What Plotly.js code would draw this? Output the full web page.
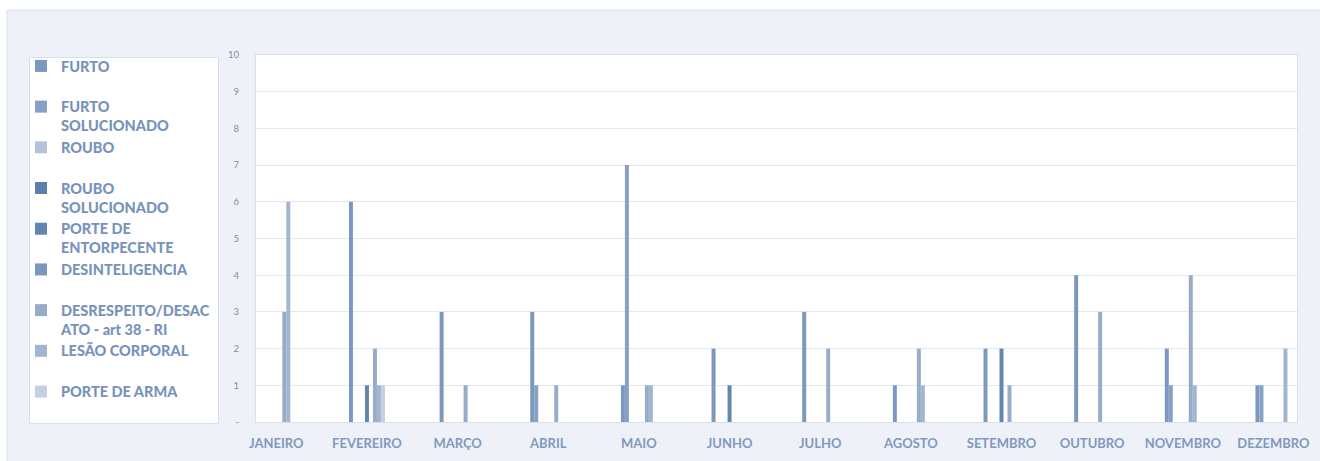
<!DOCTYPE html>
<html>
<head>
<meta charset="utf-8">
<script src="https://cdn.plot.ly/plotly-3.0.1.min.js"></script>
<style>
  html, body { margin: 0; padding: 0; background: #ffffff; }
  #chart { width: 1320px; height: 461px; }
</style>
</head>
<body>
<div id="chart"></div>
<script>
// ---- data ----
var months = ['JANEIRO', 'FEVEREIRO', 'MARÇO', 'ABRIL', 'MAIO', 'JUNHO', 'JULHO', 'AGOSTO', 'SETEMBRO', 'OUTUBRO', 'NOVEMBRO', 'DEZEMBRO'];
var seriesNames = ['FURTO', 'FURTO<br>SOLUCIONADO', 'ROUBO', 'ROUBO<br>SOLUCIONADO', 'PORTE DE<br>ENTORPECENTE', 'DESINTELIGENCIA', 'DESRESPEITO/DESAC<br>ATO - art 38 - RI', 'LESÃO CORPORAL', 'PORTE DE ARMA'];
var furto             = [0, 6, 3, 3, 1, 2, 3, 1, 2, 4, 2, 1];
var furtoSolucionado  = [0, 0, 0, 1, 7, 0, 0, 0, 0, 0, 1, 1];
var roubo             = [0, 0, 0, 0, 0, 0, 0, 0, 0, 0, 0, 0];
var rouboSolucionado  = [0, 0, 0, 0, 0, 0, 0, 0, 0, 0, 0, 0];
var porteEntorpecente = [0, 1, 0, 0, 0, 1, 0, 0, 2, 0, 0, 0];
var desinteligencia   = [0, 0, 0, 0, 0, 0, 0, 0, 0, 0, 0, 0];
var desrespeito       = [3, 2, 1, 1, 1, 0, 2, 2, 1, 3, 4, 0];
var lesaoCorporal     = [6, 1, 0, 0, 1, 0, 0, 1, 0, 0, 1, 2];
var porteArma         = [0, 1, 0, 0, 0, 0, 0, 0, 0, 0, 0, 0];
var yTickVals  = [0, 1, 2, 3, 4, 5, 6, 7, 8, 9, 10];
var yTickText  = ['-', '1', '2', '3', '4', '5', '6', '7', '8', '9', '10'];

// ---- styling ----
var seriesValues = [furto, furtoSolucionado, roubo, rouboSolucionado, porteEntorpecente, desinteligencia, desrespeito, lesaoCorporal, porteArma];
var seriesColors = ['#7d98bf', '#87a1c5', '#b4c3d9', '#5e7fac', '#6584b0', '#7b97bf', '#97acca', '#a3b6d1', '#c3d0e2'];

var traces = seriesNames.map(function (name, i) {
  var label = name.indexOf('<br>') >= 0 ? name : name + '<br>&nbsp;';
  return {
    type: 'bar',
    name: label,
    x: months,
    y: seriesValues[i],
    marker: { color: seriesColors[i], line: { width: 0 } },
    hoverinfo: 'x+y+name'
  };
});

var W = 1320, H = 461;
var plotL = 256, plotR = 1297, plotT = 55, plotB = 422;
var pw = plotR - plotL, ph = plotB - plotT;
function px(x) { return (x - plotL) / pw; }
function py(y) { return (plotB - y) / ph; }

var catCenter0 = 276.3, catStep = 90.65;

var layout = {
  width: W, height: H,
  paper_bgcolor: '#eef2f8',
  plot_bgcolor: '#ffffff',
  margin: { l: plotL, r: W - plotR, t: plotT, b: H - plotB, pad: 0 },
  barmode: 'group',
  bargap: 0.603,
  bargroupgap: 0,
  showlegend: true,
  font: { family: 'Lato, "Open Sans", sans-serif', color: '#7f98bd' },
  xaxis: {
    type: 'category',
    range: [(plotL - catCenter0) / catStep, (plotR - catCenter0) / catStep],
    showgrid: false,
    showline: true, linecolor: '#d9e0ea', linewidth: 1, mirror: true,
    ticks: '',
    ticklabelstandoff: 9,
    tickfont: { family: 'Lato, sans-serif', size: 13, weight: 700, color: '#8099bd' },
    fixedrange: true
  },
  yaxis: {
    range: [0, 10],
    tickvals: yTickVals,
    ticktext: yTickText,
    showgrid: true, gridcolor: '#e2e8f0', gridwidth: 1,
    zeroline: false,
    showline: true, linecolor: '#d9e0ea', linewidth: 1, mirror: true,
    ticks: '',
    ticklabelstandoff: 14,
    tickfont: { family: 'Lato, sans-serif', size: 9.5, color: '#7d8ca6' },
    fixedrange: true
  },
  legend: {
    xref: 'container', yref: 'container',
    x: 21 / W, y: 1 - 50 / H,
    xanchor: 'left', yanchor: 'top',
    maxheight: 1,
    bgcolor: 'rgba(0,0,0,0)',
    borderwidth: 0,
    valign: 'top',
    tracegroupgap: 0,
    font: { family: 'Lato, sans-serif', size: 14.5, weight: 900, color: '#7893bb' }
  },
  shapes: [
    // white margins outside the chart frame
    { type: 'rect', xref: 'paper', yref: 'paper', x0: px(-5), x1: px(1330), y0: py(10), y1: py(-5),
      fillcolor: '#ffffff', line: { width: 0 }, layer: 'below' },
    { type: 'rect', xref: 'paper', yref: 'paper', x0: px(-5), x1: px(7), y0: py(470), y1: py(-5),
      fillcolor: '#ffffff', line: { width: 0 }, layer: 'below' },
    // frame border lines
    { type: 'line', xref: 'paper', yref: 'paper', x0: px(7), x1: px(1330), y0: py(10), y1: py(10),
      line: { color: '#d8dfe9', width: 1 }, layer: 'below' },
    { type: 'line', xref: 'paper', yref: 'paper', x0: px(7), x1: px(7), y0: py(10), y1: py(470),
      line: { color: '#d8dfe9', width: 1 }, layer: 'below' },
    // legend box
    { type: 'rect', xref: 'paper', yref: 'paper', x0: px(29.5), x1: px(218.5), y0: py(423.5), y1: py(57.5),
      fillcolor: '#ffffff', line: { color: '#d5deea', width: 1 }, layer: 'below' }
  ]
};

Plotly.newPlot('chart', traces, layout, { displayModeBar: false, responsive: false, staticPlot: true });
</script>
</body>
</html>
